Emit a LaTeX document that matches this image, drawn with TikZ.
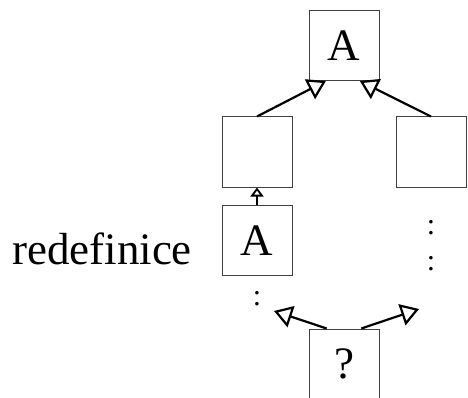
\documentclass[tikz,border=0pt]{standalone}
\usepackage{fontspec}
\setmainfont{Liberation Serif}
\usetikzlibrary{arrows.meta}
\begin{document}
\begin{tikzpicture}
    [
    x=1pt,y=1pt,
    box/.style={rectangle,draw=black!75,line width=1pt,inner sep=0pt,minimum width=70pt,minimum height=70pt,font=\fontsize{45}{54}\selectfont},
    dots/.style={inner sep=0pt,font=\fontsize{30}{36}\selectfont},
    inherit/.style={line width=2.2pt,-{Triangle[open,length=18pt,width=22pt]}},
    small/.style={line width=1.8pt,-{Triangle[open,length=9pt,width=13pt]}}
    ]
    \useasboundingbox (0,0) rectangle (468,397);
    \node (label) at (102,148) {\fontsize{45}{54}\selectfont redefinice};
    \node (a) at (344,351.5) [box] {A};
    \node (b) at (257,245) [box] {};
    \node (c) at (431,245) [box] {};
    \node (a2) at (257,156.5) [box] {A};
    \node (q) at (344,33) [box] {?};
    \node (d1) at (431,169) [dots] {:};
    \node (d2) at (431,133) [dots] {:};
    \node (d3) at (257,98) [dots] {:};
    \coordinate (tl) at (274,86);
    \coordinate (tr) at (419,88);
    \draw [inherit] (b.north) to (a.-117);
    \draw [inherit] (c.north) to (a.-66);
    \draw [small] (a2.north) to (b.south);
    \draw [inherit] (q.116) to (tl);
    \draw [inherit] (q.64) to (tr);
  \end{tikzpicture}
\end{document}
